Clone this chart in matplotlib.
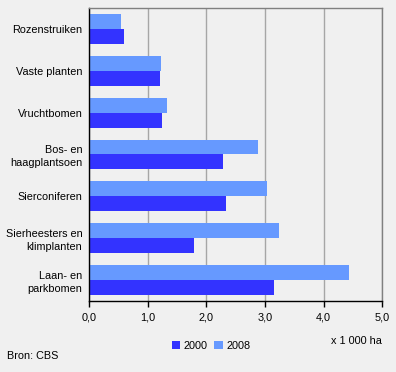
import numpy as np
import matplotlib.pyplot as plt

plt.rcParams['font.family'] = ['Liberation Sans', 'DejaVu Sans']
plt.rcParams['font.size'] = 7.85

# Data (x 1 000 ha)
categories = ['Rozenstruiken', 'Vaste planten', 'Vruchtbomen', 'Bos- en\nhaagplantsoen',
              'Sierconiferen', 'Sierheesters en\nklimplanten', 'Laan- en\nparkbomen']
values_2000 = [0.60, 1.20, 1.24, 2.28, 2.33, 1.78, 3.15]
values_2008 = [0.54, 1.22, 1.33, 2.88, 3.03, 3.24, 4.43]
xticks = [0, 1, 2, 3, 4, 5]
xtick_labels = ['0,0', '1,0', '2,0', '3,0', '4,0', '5,0']

bg = '#f0f0f0'
fig = plt.figure(figsize=(3.96, 3.72), dpi=100, facecolor=bg)
ax = fig.add_axes([0.2255, 0.1909, 0.7399, 0.7876], facecolor=bg)

y = np.arange(len(categories))
h = 15 / 42
ax.barh(y - h / 2, values_2008, height=h, color='#6699ff', label='2008', zorder=3)
ax.barh(y + h / 2, values_2000, height=h, color='#3333ff', label='2000', zorder=3)

ax.set_ylim(len(categories) - 0.5, -0.5)
ax.set_xlim(0, 5)
ax.set_yticks(y)
ax.set_yticklabels(categories, multialignment='right', linespacing=1.35)
ax.tick_params(axis='y', length=0, pad=5)
ax.set_xticks(xticks)
ax.set_xticklabels(xtick_labels)
ax.tick_params(axis='x', length=4, width=1, color='black', pad=4)

ax.grid(axis='x', color='#a6a6a6', linewidth=1, zorder=0)
ax.spines['left'].set_color('black')
ax.spines['bottom'].set_color('black')
ax.spines['top'].set_color('#808080')
ax.spines['right'].set_color('#808080')
for s in ax.spines.values():
    s.set_linewidth(1)
    s.set_zorder(4)

handles, labels = ax.get_legend_handles_labels()
fig.legend(handles[::-1], labels[::-1], loc='center', bbox_to_anchor=(211 / 396, 1 - 346 / 372),
           ncol=2, frameon=False, handlelength=0.8, handleheight=0.8, handletextpad=0.3,
           columnspacing=0.6, borderaxespad=0)

fig.text(382 / 396, 1 - 341 / 372, 'x 1 000 ha', ha='right', va='center')
fig.text(7 / 396, 1 - 356 / 372, 'Bron: CBS', ha='left', va='center')

fig.savefig('out.png', dpi=100, facecolor=bg)
